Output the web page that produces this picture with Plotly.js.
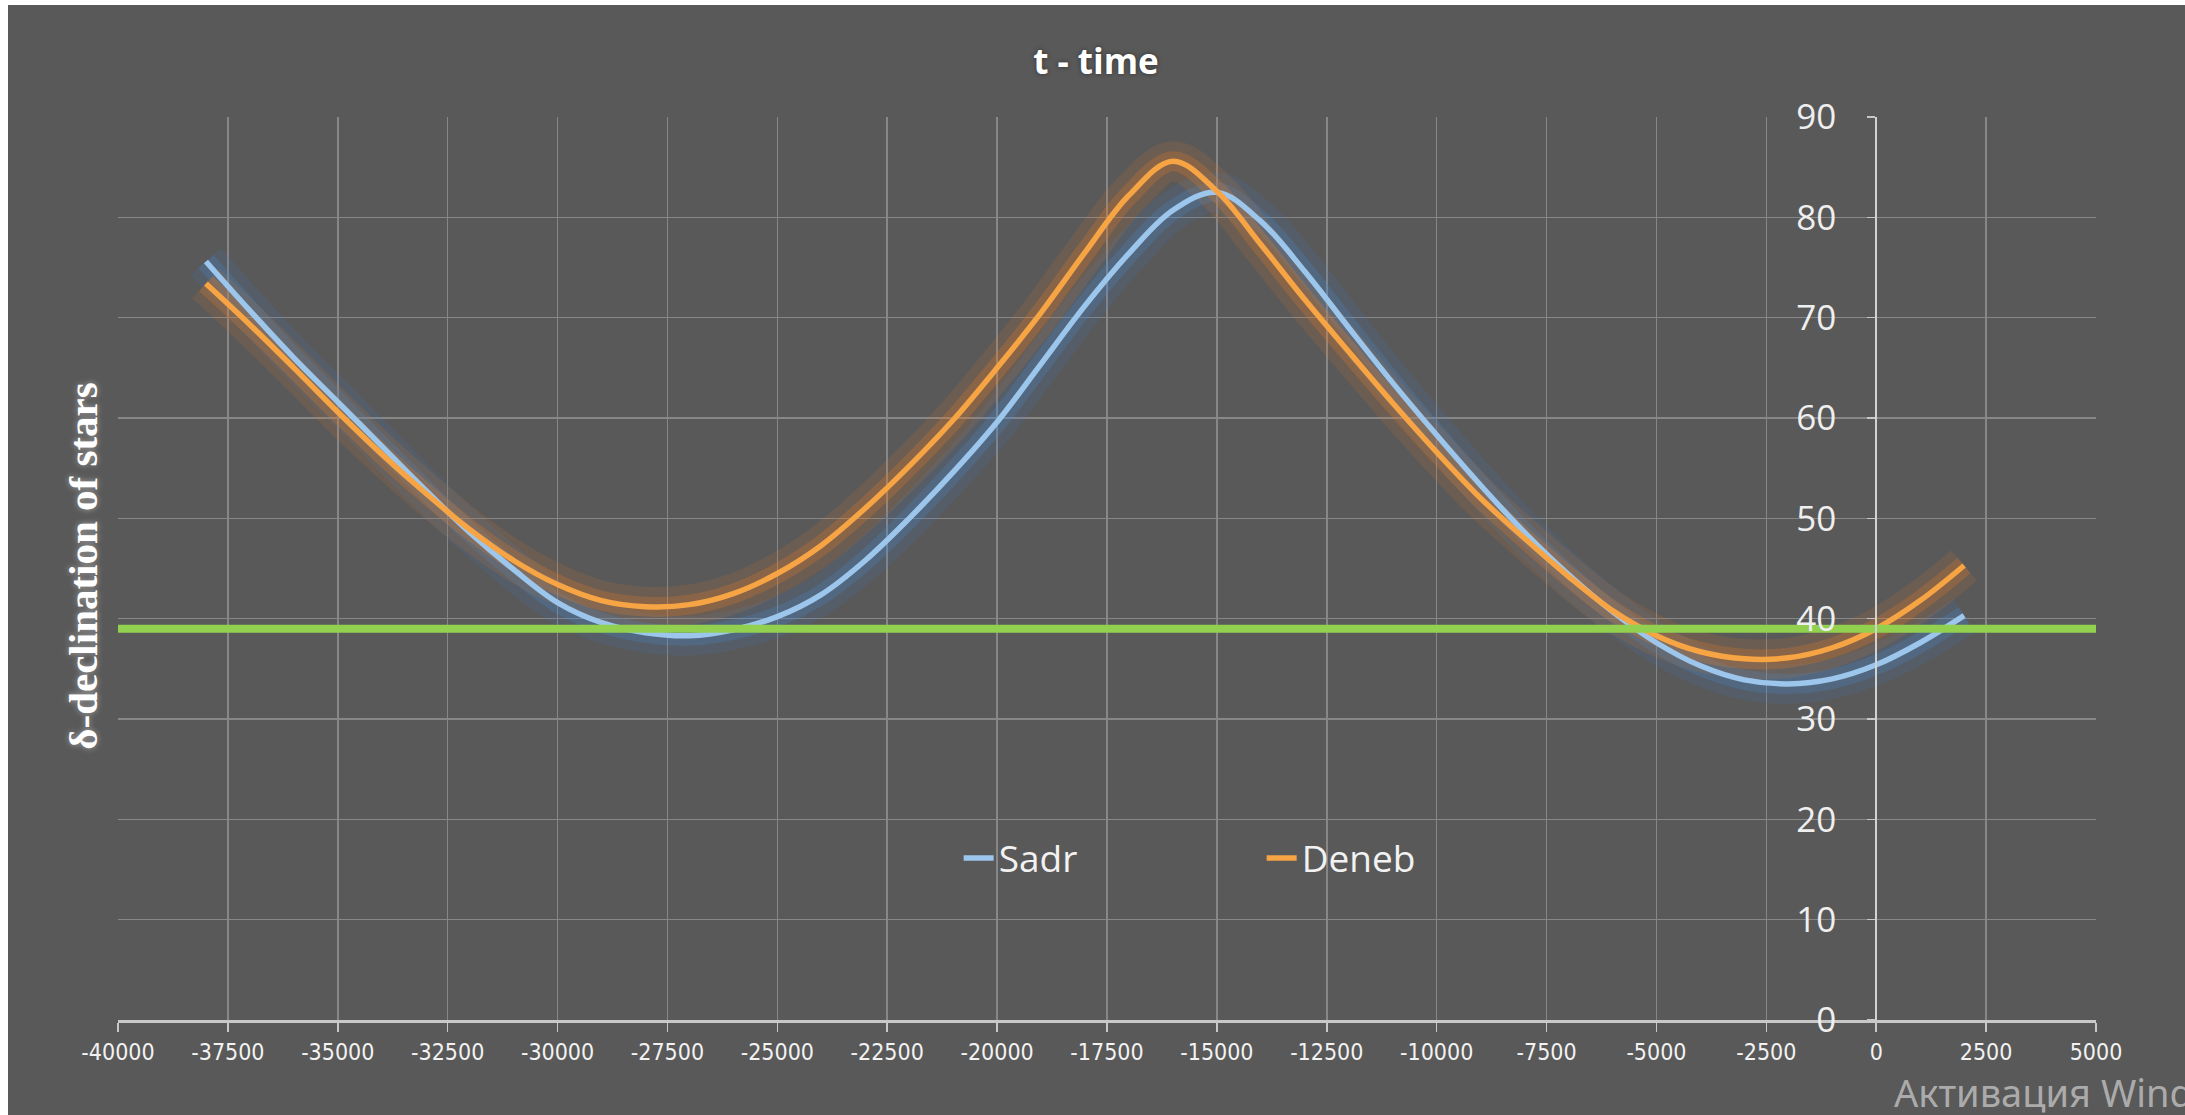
<!DOCTYPE html>
<html>
<head>
<meta charset="utf-8">
<script src="https://cdn.plot.ly/plotly-3.0.1.min.js"></script>
<style>
  html, body { margin: 0; padding: 0; background: #ffffff; width: 2185px; height: 1115px; overflow: hidden; }
  #chart { position: absolute; left: 8px; top: 5px; width: 2177px; height: 1110px; }
</style>
</head>
<body>
<div id="chart"></div>
<script>
// ---- data ----
const years = [-38000,-37000,-36000,-35000,-34000,-33000,-32000,-31000,-30000,-29000,
               -28000,-27000,-26000,-25000,-24000,-23000,-22000,-21000,-20000,-19000,
               -18000,-17000,-16000,-15000,-14000,-13000,-12000,-11000,-10000,-9000,
               -8000,-7000,-6000,-5000,-4000,-3000,-2000,-1000,0,1000,2000];

const sadr  = [75.6,70.7,66.0,61.6,57.2,52.8,48.6,44.9,41.6,39.6,
               38.6,38.3,38.9,40.2,42.4,45.8,50.0,54.6,59.6,65.4,
               71.2,76.4,80.7,82.5,79.6,74.6,69.0,63.5,58.3,53.3,
               48.6,44.4,40.7,37.6,35.3,33.9,33.5,34.0,35.4,37.6,40.3];

const deneb = [73.4,69.3,65.0,60.6,56.4,52.5,48.9,45.8,43.4,41.8,
               41.2,41.4,42.5,44.5,47.3,51.0,55.2,59.8,65.0,70.5,
               76.5,82.2,85.6,82.6,77.3,71.8,66.6,61.5,56.6,52.0,
               48.0,44.2,40.8,38.3,36.7,36.0,36.1,37.1,39.0,41.8,45.3];

const refLineX = [-40000, 5000];
const refLineY = [39, 39];

const xTickVals = [-40000,-37500,-35000,-32500,-30000,-27500,-25000,-22500,-20000,-17500,
                   -15000,-12500,-10000,-7500,-5000,-2500,0,2500,5000];
const xTickText = ['-40000','-37500','-35000','-32500','-30000','-27500','-25000','-22500','-20000','-17500',
                   '-15000','-12500','-10000','-7500','-5000','-2500','0','2500','5000'];
const yTickVals = [0,10,20,30,40,50,60,70,80,90];

const xRange = [-40000, 5000];
const yRange = [0, 90];

// ---- styling ----
const BLUE = '#9cc6ec';
const ORANGE = '#f6a444';
const GREEN = '#92d050';

function glow(y, color, width) {
  return { x: years, y: y, mode: 'lines', type: 'scatter',
           line: { color: color, width: width, shape: 'spline', smoothing: 1 },
           hoverinfo: 'skip', showlegend: false };
}

const traces = [
  glow(sadr,  'rgba(60,130,210,0.12)', 40),
  glow(sadr,  'rgba(70,140,215,0.22)', 20),
  glow(deneb, 'rgba(235,120,30,0.12)', 40),
  glow(deneb, 'rgba(235,125,35,0.24)', 20),
  { x: years, y: sadr, name: 'Sadr', type: 'scatter', mode: 'lines',
    line: { color: BLUE, width: 5.5, shape: 'spline', smoothing: 1 } },
  { x: years, y: deneb, name: 'Deneb', type: 'scatter', mode: 'lines',
    line: { color: ORANGE, width: 5.5, shape: 'spline', smoothing: 1 } },
  { x: refLineX, y: refLineY, type: 'scatter', mode: 'lines', showlegend: false,
    hoverinfo: 'skip', line: { color: GREEN, width: 8 } }
];

const layout = {
  width: 2177, height: 1110,
  margin: { l: 110, r: 89, t: 112, b: 95, pad: 0 },
  paper_bgcolor: '#595959',
  plot_bgcolor: '#595959',
  showlegend: true,
  title: {
    text: '<b>t - time</b>',
    font: { family: 'Open Sans, sans-serif', size: 35, color: '#ffffff',
            shadow: '0 0 4px rgba(40,40,40,0.8)' },
    xref: 'paper', x: 0.4944, xanchor: 'center',
    yref: 'container', y: 0.9486, yanchor: 'middle'
  },
  xaxis: {
    range: xRange, tickmode: 'array', tickvals: xTickVals, ticktext: xTickText,
    showgrid: true, gridcolor: '#878787', gridwidth: 1.5,
    zeroline: false,
    showline: true, linecolor: '#c8c8c8', linewidth: 3,
    ticks: 'outside', ticklen: 9, tickwidth: 1.5, tickcolor: '#c8c8c8',
    tickfont: { family: 'Liberation Sans Narrow, DejaVu Sans Condensed, Roboto, sans-serif', size: 23, color: '#f2f2f2' },
    ticklabelstandoff: 0,
    fixedrange: true
  },
  yaxis: {
    range: yRange, tickmode: 'array', tickvals: yTickVals,
    anchor: 'free', position: (0 - xRange[0]) / (xRange[1] - xRange[0]),
    showgrid: true, gridcolor: '#878787', gridwidth: 1.5,
    zeroline: false,
    showline: true, linecolor: '#d2d2d2', linewidth: 2,
    ticks: 'outside', ticklen: 8, tickwidth: 1.5, tickcolor: '#c8c8c8',
    tickfont: { family: 'Open Sans, sans-serif', size: 35, color: '#efefef' },
    ticklabelstandoff: 24,
    fixedrange: true
  },
  legend: {
    orientation: 'h', x: 0.425, xanchor: 'left', y: 0.179, yanchor: 'middle',
    bgcolor: 'rgba(0,0,0,0)', borderwidth: 0,
    font: { family: 'Open Sans, sans-serif', size: 37, color: '#f2f2f2' },
    entrywidth: 258, entrywidthmode: 'pixels'
  },
  annotations: [
    { text: '<b>δ-declination of stars</b>', textangle: -90, showarrow: false,
      xref: 'paper', yref: 'paper', x: -0.0177, y: 0.503, xanchor: 'center', yanchor: 'middle',
      font: { family: 'Liberation Serif, Times New Roman, serif', size: 41, color: '#ffffff',
              shadow: '0 0 6px rgba(255,255,255,0.45)' } },
    { text: 'Активация Windows', showarrow: false,
      xref: 'paper', yref: 'paper', x: 0.8969, y: -0.080, xanchor: 'left', yanchor: 'middle',
      font: { family: 'Noto Sans, Open Sans, sans-serif', size: 38, color: 'rgba(195,195,195,0.8)' } }
  ]
};

Plotly.newPlot('chart', traces, layout, { staticPlot: true, displayModeBar: false });
</script>
</body>
</html>
